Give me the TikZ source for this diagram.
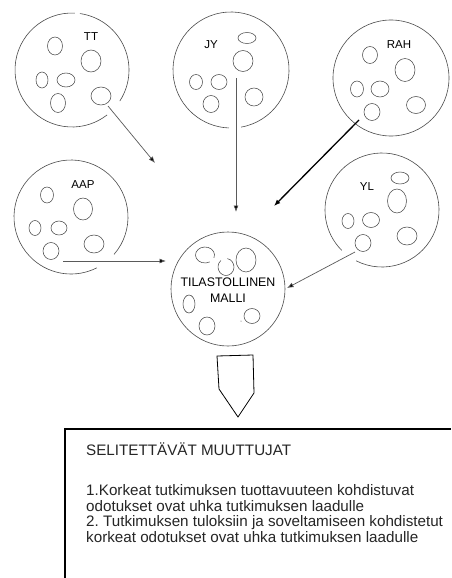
\documentclass[tikz,border=0pt]{standalone}
\usepackage{fontspec}
\setmainfont{Liberation Sans}
\usetikzlibrary{arrows.meta}
\frenchspacing
\definecolor{circ}{HTML}{4A4A4A}
\definecolor{lin}{HTML}{5A5A5A}
\tikzset{
  bubble/.style={draw=circ, line width=0.6pt},
  blob/.style={draw=circ, line width=0.55pt},
  conn/.style={draw=lin, line width=0.7pt, -{Latex[length=6.5pt,width=5pt,fill=black]}},
  thickconn/.style={draw=black, line width=1.3pt, -{Latex[length=6.5pt,width=5pt]}},
  lbl/.style={font=\fontsize{11.5}{12}\selectfont, text=black, inner sep=0pt},
  body/.style={font=\fontsize{15.2}{17}\selectfont, text=black!85, anchor=base west, inner sep=0pt},
}
\newcommand\gapcirc[4]{\draw[bubble] (#1) ++(#3:#2) arc[start angle=#3, end angle=#4, radius=#2];}
\begin{document}
\begin{tikzpicture}[x=1pt,y=-1pt]
\useasboundingbox (0,0) rectangle (451,578);
\fill[white] (0,0) rectangle (451,578);
% centres
\coordinate (tt) at (72,70);
\coordinate (jy) at (231,70);
\coordinate (rah) at (391,78);
\coordinate (aap) at (71,217);
\coordinate (yl) at (382,210);
\coordinate (tm) at (228,289);
% ---- TT
\gapcirc{tt}{57pt}{-33}{82}
\gapcirc{tt}{57pt}{87}{308}
\node[lbl] (ttl) at (91,37) {TT};
\draw[blob] (55,46) ellipse [x radius=7.5pt, y radius=9pt];
\draw[blob] (91,61) ellipse [x radius=10pt, y radius=11pt];
\draw[blob] (42,80) ellipse [x radius=6pt, y radius=8pt];
\draw[blob] (66,80) ellipse [x radius=9pt, y radius=7pt];
\draw[blob] (58,103) ellipse [x radius=7.5pt, y radius=9.5pt];
\draw[blob] (101,96) ellipse [x radius=10pt, y radius=9pt];
% ---- JY
\gapcirc{jy}{58pt}{-80}{268}
\node[lbl] (jyl) at (211,45) {JY};
\draw[blob] (247,38) ellipse [x radius=9pt, y radius=5.5pt];
\draw[blob] (243,61) ellipse [x radius=10pt, y radius=10.5pt];
\draw[blob] (196,82) ellipse [x radius=6.5pt, y radius=7.5pt];
\draw[blob] (219,82) ellipse [x radius=8pt, y radius=7.5pt];
\draw[blob] (211,104) ellipse [x radius=8pt, y radius=8.5pt];
\draw[blob] (254,97) ellipse [x radius=9pt, y radius=9pt];
% ---- RAH
\draw[bubble] (rah) circle [radius=58pt];
\node[lbl] (rahl) at (399,45) {RAH};
\draw[blob] (370,55) ellipse [x radius=7.5pt, y radius=8.5pt];
\draw[blob] (405,70) ellipse [x radius=10pt, y radius=11.5pt];
\draw[blob] (357,89) ellipse [x radius=6.5pt, y radius=8pt];
\draw[blob] (380,89) ellipse [x radius=9pt, y radius=8pt];
\draw[blob] (372,112) ellipse [x radius=8pt, y radius=8.5pt];
\draw[blob] (416,105) ellipse [x radius=9.5pt, y radius=8.5pt];
% ---- AAP
\gapcirc{aap}{57pt}{-41}{297}
\node[lbl] (aapl) at (83,185) {AAP};
\draw[blob] (47,195) ellipse [x radius=6.5pt, y radius=8pt];
\draw[blob] (83,209) ellipse [x radius=9.5pt, y radius=11pt];
\draw[blob] (35,228) ellipse [x radius=6pt, y radius=7.5pt];
\draw[blob] (59,228) ellipse [x radius=8pt, y radius=7pt];
\draw[blob] (51,251) ellipse [x radius=8pt, y radius=8.5pt];
\draw[blob] (94,244) ellipse [x radius=10pt, y radius=9pt];
% ---- YL
\gapcirc{yl}{57pt}{243}{585}
\node[lbl] (yll) at (367,187) {YL};
\draw[blob] (400,178) ellipse [x radius=9pt, y radius=6pt];
\draw[blob] (397,201) ellipse [x radius=9.5pt, y radius=12pt];
\draw[blob] (348,221) ellipse [x radius=6pt, y radius=7.5pt];
\draw[blob] (371,220) ellipse [x radius=8.5pt, y radius=7.5pt];
\draw[blob] (363,243) ellipse [x radius=8pt, y radius=8.5pt];
\draw[blob] (407,236) ellipse [x radius=10pt, y radius=9pt];
% ---- TILASTOLLINEN MALLI
\draw[bubble] (tm) circle [radius=57pt];
\draw[blob] (205,255) ++(-20:9.5pt and 8pt) arc[start angle=-20, end angle=300, x radius=9.5pt, y radius=8pt];
\draw[blob] (226,267) ++(130:8pt and 8.5pt) arc[start angle=130, end angle=440, x radius=8pt, y radius=8.5pt];
\draw[blob] (246,260) ellipse [x radius=10pt, y radius=12pt];
\draw[blob] (189,304) ellipse [x radius=6pt, y radius=9pt];
\draw[blob] (252,316) ellipse [x radius=8pt, y radius=7.5pt];
\draw[blob] (207,326) ellipse [x radius=8pt, y radius=9pt];
\fill[circ] (241,321) circle [radius=0.5pt];
\node[font=\fontsize{12.4}{16.5}\selectfont, align=center, inner sep=0pt] (tml) at (228,290) {TILASTOLLINEN\\MALLI};
% ---- connectors
\coordinate (tt-s) at (108,106);
\coordinate (tt-e) at (155,163);
\coordinate (jy-s) at (236,78);
\coordinate (jy-e) at (236,212);
\coordinate (rah-s) at (359,120);
\coordinate (rah-e) at (274,206);
\coordinate (aap-s) at (63,261);
\coordinate (aap-e) at (166,261);
\coordinate (yl-s) at (355,252);
\coordinate (yl-e) at (287,288);
\draw[conn] (tt-s) -- (tt-e);
\draw[conn] (jy-s) -- (jy-e);
\draw[thickconn] (rah-s) -- (rah-e);
\draw[conn] (aap-s) -- (aap-e);
\draw[conn] (yl-s) -- (yl-e);
% ---- pentagon arrow
\draw[line width=0.8pt] (217,356) coordinate (p1) -- (253,355) coordinate (p2) -- (254,393) coordinate (p3) -- (238,417) coordinate (p4) -- (219,389) coordinate (p5) -- cycle;
% ---- text box
\coordinate (bx-bl) at (65,578);
\coordinate (bx-tl) at (65,429);
\coordinate (bx-tr) at (451,429);
\draw[line width=1.1pt] (bx-bl) -- (bx-tl) -- (bx-tr);
\node[body] (h) at (86,455) {SELITETTÄVÄT MUUTTUJAT};
\node[body] (l1) at (86,495.5) {1.Korkeat tutkimuksen tuottavuuteen kohdistuvat};
\node[body] (l2) at (86,511) {odotukset ovat uhka tutkimuksen laadulle};
\node[body] (l3) at (86,526.5) {2. Tutkimuksen tuloksiin ja soveltamiseen kohdistetut};
\node[body] (l4) at (86,542) {korkeat odotukset ovat uhka tutkimuksen laadulle};
\end{tikzpicture}
\end{document}
